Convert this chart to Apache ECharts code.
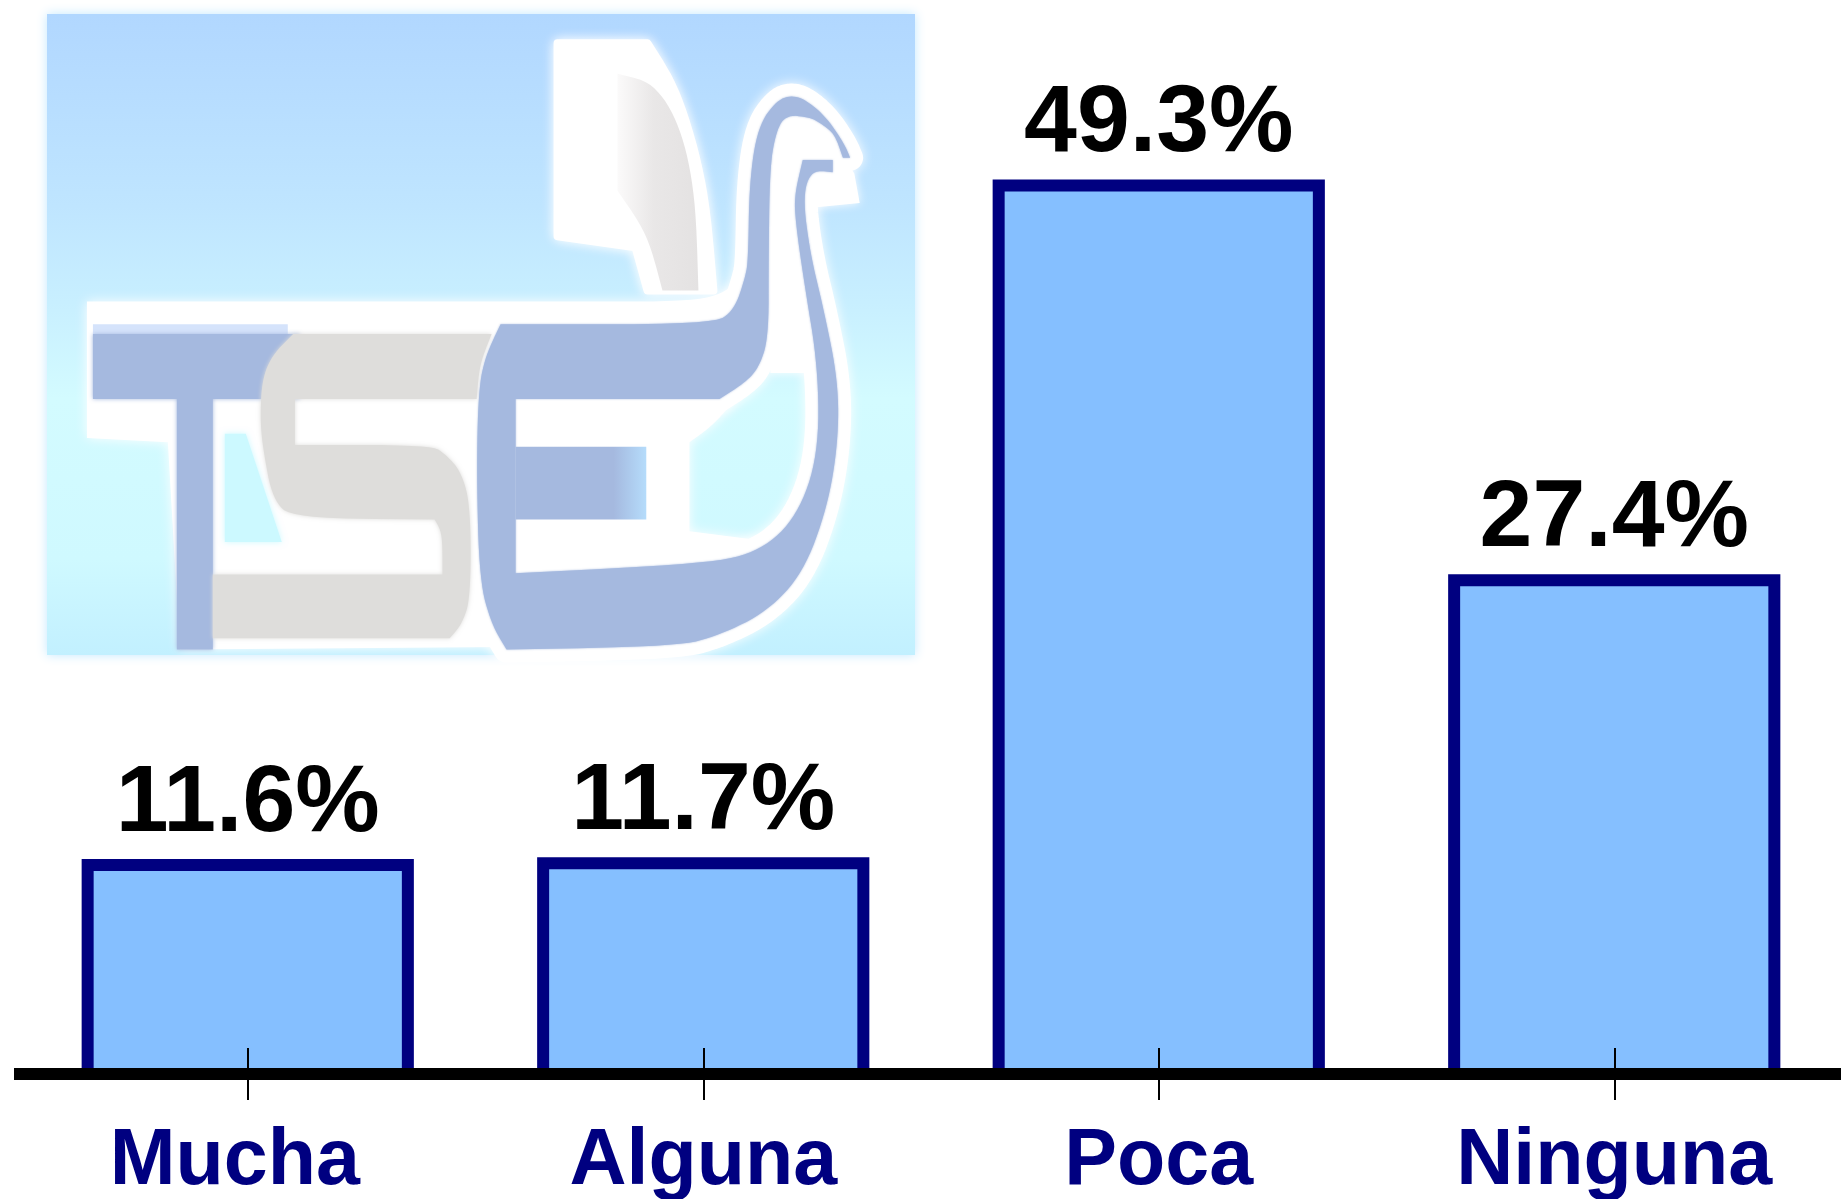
<!DOCTYPE html>
<html>
<head>
<meta charset="utf-8">
<style>html,body{margin:0;padding:0;background:#fff}#c{width:1841px;height:1199px}</style>
<script src="https://cdn.jsdelivr.net/npm/echarts@6/dist/echarts.min.js"></script>
</head>
<body>
<div id="c"></div>
<script>
const categories = ['Mucha', 'Alguna', 'Poca', 'Ninguna'];
const values = [11.6, 11.7, 49.3, 27.4];

// Logo outlines (watermark) in a working space of the logo area; a third element marks a sharp corner
const logoE = [[835,748,1],[1190,748],[1225,715],[1243,640],[1248,600],[1250,420],[1264,293],[1296,230],[1326,219],[1356,242],[1384,281],[1409,334],[1418,364,1],[1406,364,1],[1393,311],[1373,288],[1351,270],[1309,265],[1293,311],[1284,392],[1282,600],[1282,780],[1265,850],[1240,885],[1200,920,1],[860,920,1],[860,1322,1],[1180,1300],[1270,1270],[1330,1190],[1365,1050],[1365,850],[1340,640],[1326,500],[1326,445],[1339,369,1],[1389,369,1],[1389,397,1],[1354,392],[1339,450],[1351,583],[1375,720],[1398,880],[1398,1020],[1380,1170],[1340,1320],[1280,1410],[1200,1465],[1130,1490],[845,1498,1],[820,1440],[800,1340],[795,1100],[798,900],[810,820]];
const logoT = [[155,770,1],[500,770,1],[500,920,1],[355,920,1],[355,1498,1],[295,1498,1],[295,920,1],[155,920,1]];
const logoTStrip = [[155,748,1],[480,748,1],[480,770,1],[155,770,1]];
const logoS = [[489,770,1],[820,770,1],[800,840],[795,920,1],[492,920,1],[492,1026,1],[720,1026],[745,1050],[770,1090],[785,1170],[785,1380],[770,1440],[750,1472,1],[355,1472,1],[355,1325,1],[738,1325,1],[738,1230],[725,1198,1],[489,1195],[455,1153],[439,1038],[434,968],[437,876],[454,819]];
const logoWhite = [[145,695,1],[1090,695,1],[1190,690],[1240,640],[1240,900],[1190,980],[1150,1020,1],[1150,1225,1],[1290,1250,1],[1200,1330,1],[1000,1490,1],[300,1498,1],[280,1020,1],[145,1010,1]];
const logoHead = [[1296,255],[1373,285],[1425,400,1],[1434,468,1],[1345,480,1],[1351,583],[1368,720],[1368,860,1],[1285,860,1],[1285,320]];
const logoSail = [[930,100,1],[1080,100,1],[1130,210],[1175,430],[1190,670,1],[1080,670,1],[1060,570,1],[930,545,1]];
const logoSailGrey = [[1030,170,1],[1090,190],[1135,290],[1160,450],[1165,670,1],[1105,670,1],[1080,540],[1030,440,1]];
const logoHole = [[375,1000,1],[410,1000,1],[470,1250,1],[375,1250,1]];
const logoMid = [[860,1030,1],[1078,1030,1],[1078,1198,1],[860,1198,1]];

function rounded(pts) {
  let cur = pts;
  for (let it = 0; it < 3; it++) {
    const out = [];
    cur.forEach((p, i) => {
      if (p[2]) { out.push(p); return; }
      const a = cur[(i - 1 + cur.length) % cur.length];
      const b = cur[(i + 1) % cur.length];
      out.push([p[0] * 0.75 + a[0] * 0.25, p[1] * 0.75 + a[1] * 0.25]);
      out.push([p[0] * 0.75 + b[0] * 0.25, p[1] * 0.75 + b[1] * 0.25]);
    });
    cur = out;
  }
  return cur;
}
const toPage = pts => rounded(pts).map(p => [p[0] / 1.668, p[1] / 2.306]);
const poly = (pts, fill, extra) => ({
  type: 'polygon', silent: true,
  shape: { points: toPage(pts) },
  style: Object.assign({ fill: fill, shadowBlur: 4, shadowColor: fill }, extra || {})
});

const chart = echarts.init(document.getElementById('c'), null, { renderer: 'canvas' });
const fontFamily = '"Liberation Sans", Arial, sans-serif';
const bandAxis = { type: 'category', data: categories, position: 'bottom', z: 5 };

chart.setOption({
  animation: false,
  backgroundColor: '#ffffff',
  grid: { left: 20, width: 1822, top: 173, height: 901, outerBoundsMode: 'none' },
  graphic: [{
    type: 'group', z: -1, silent: true,
    children: [
      {
        type: 'rect', silent: true,
        shape: { x: 47, y: 14, width: 868, height: 641 },
        style: {
          fill: new echarts.graphic.LinearGradient(0, 0, 0, 1, [
            { offset: 0, color: '#b1d7ff' },
            { offset: 0.3, color: '#bfe5ff' },
            { offset: 0.45, color: '#c8efff' },
            { offset: 0.6, color: '#d3fbff' },
            { offset: 0.85, color: '#cff9ff' },
            { offset: 1, color: '#c2f0ff' }
          ]),
          shadowBlur: 10, shadowColor: '#c2e8ff'
        }
      },
      poly(logoSail, '#ffffff', { stroke: '#ffffff', lineWidth: 8, lineJoin: 'round', shadowBlur: 12, shadowColor: '#ffffff' }),
      poly(logoWhite, '#ffffff', { shadowBlur: 12, shadowColor: '#ffffff' }),
      poly(logoE, '#ffffff', { stroke: '#ffffff', lineWidth: 26, lineJoin: 'round', shadowBlur: 12, shadowColor: '#ffffff' }),
      poly(logoHead, '#ffffff', { shadowBlur: 10 }),
      poly(logoHole, '#ccf9ff', { shadowBlur: 6 }),
      poly(logoSailGrey, '#e6e4e4', {
        fill: new echarts.graphic.LinearGradient(0, 0, 1, 0, [
          { offset: 0, color: '#fbfafa' },
          { offset: 0.45, color: '#e9e7e7' },
          { offset: 1, color: '#e4e2e2' }
        ]), shadowBlur: 3, shadowColor: '#ffffff'
      }),
      poly(logoTStrip, '#d5e3fb', { shadowBlur: 0 }),
      poly(logoT, '#a5b9df'),
      poly(logoS, '#dedddb'),
      poly(logoE, '#a5b9df', { shadowBlur: 2 }),
      poly(logoMid, '#a5b9df', {
        fill: new echarts.graphic.LinearGradient(0, 0, 1, 0, [
          { offset: 0, color: '#a5b9df' },
          { offset: 0.75, color: '#a5b9df' },
          { offset: 1, color: '#b5dcfb' }
        ]), shadowBlur: 0
      })
    ]
  }],
  xAxis: [
    Object.assign({}, bandAxis, {
      axisLine: { show: true, onZero: false, lineStyle: { color: '#000000', width: 12, cap: 'square' } },
      axisTick: { show: true, alignWithLabel: true, length: 26, lineStyle: { color: '#000000', width: 2 } },
      axisLabel: {
        show: true, margin: 49, interval: 0,
        formatter: v => v === categories[0] ? '{a|' + v + '}' : '{b|' + v + '}',
        rich: {
          a: { fontFamily, fontWeight: 'bold', fontSize: 79, color: '#000080', padding: [0, 26, 0, 0] },
          b: { fontFamily, fontWeight: 'bold', fontSize: 79, color: '#000080' }
        }
      }
    }),
    Object.assign({}, bandAxis, {
      axisLine: { show: false, onZero: false },
      axisTick: { show: true, inside: true, alignWithLabel: true, length: 26, lineStyle: { color: '#000000', width: 2 } },
      axisLabel: { show: false }
    })
  ],
  yAxis: { type: 'value', min: 0, max: 50, show: false, splitLine: { show: false } },
  series: [{
    type: 'custom',
    coordinateSystem: 'cartesian2d',
    clip: false,
    z: 2,
    data: values.map((v, i) => [i, v]),
    encode: { x: 0, y: 1 },
    renderItem: (params, api) => {
      const top = api.coord([api.value(0), api.value(1)]);
      const base = api.coord([api.value(0), 0]);
      const w = api.size([1, 0])[0] * 0.703;
      return {
        type: 'rect',
        shape: { x: top[0] - w / 2, y: top[1], width: w, height: base[1] - top[1] },
        style: { fill: '#85bfff', stroke: '#000080', lineWidth: 12 },
        textContent: {
          style: {
            text: api.value(1).toFixed(1) + '%',
            fontFamily, fontWeight: 'bold', fontSize: 95, fill: '#000000'
          }
        },
        textConfig: { position: 'top', distance: 7 }
      };
    }
  }]
});
</script>
</body>
</html>
